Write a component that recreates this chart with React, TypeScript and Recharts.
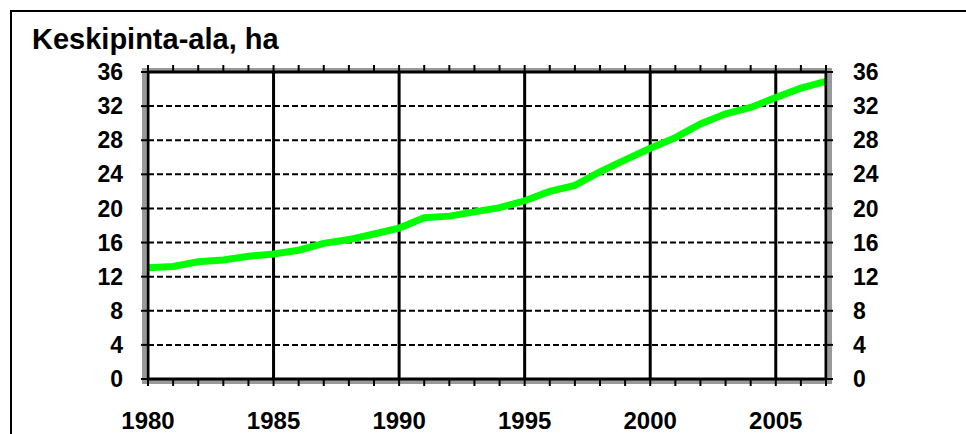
import { Line, LineChart, ReferenceLine, XAxis, YAxis } from 'recharts';

const years = [
  1980, 1981, 1982, 1983, 1984, 1985, 1986, 1987, 1988, 1989, 1990, 1991, 1992, 1993,
  1994, 1995, 1996, 1997, 1998, 1999, 2000, 2001, 2002, 2003, 2004, 2005, 2006, 2007,
];
const avgArea = [
  13.05, 13.2, 13.75, 13.95, 14.4, 14.65, 15.1, 15.9, 16.35, 17.0, 17.7, 18.9, 19.1, 19.6,
  20.1, 20.9, 22.0, 22.7, 24.3, 25.7, 27.05, 28.3, 29.9, 31.1, 31.85, 33.0, 34.1, 34.9,
];
const yTicks = [0, 4, 8, 12, 16, 20, 24, 28, 32, 36];
const dashedLevels = [4, 8, 12, 16, 20, 24, 28, 32];
const labelYears = [1980, 1985, 1990, 1995, 2000, 2005];
const solidYears = [1985, 1990, 1995, 2000, 2005];

const data = years.map((year, i) => ({ year, area: avgArea[i] }));

const FONT = '"Liberation Sans", Arial, sans-serif';
const yTickStyle = { fontSize: 23, fontWeight: 700, fill: '#000', fontFamily: FONT };
const xTickStyle = { fontSize: 24, fontWeight: 700, fill: '#000', fontFamily: FONT };
const axisLine = { stroke: '#000', strokeWidth: 3 };
const tickLine = { stroke: '#000', strokeWidth: 2 };

export default function App() {
  return (
    <div
      style={{
        position: 'fixed',
        left: 0,
        top: 0,
        width: 966,
        height: 434,
        overflow: 'hidden',
        background: '#fff',
        fontFamily: FONT,
      }}
    >
      {/* outer chart frame */}
      <div
        style={{
          position: 'absolute',
          left: 10,
          top: 10,
          width: 1000,
          height: 500,
          border: '2px solid #000',
        }}
      />
      {/* grey shadow round the plot area */}
      <div
        style={{
          position: 'absolute',
          left: 142,
          top: 68,
          width: 682,
          height: 308,
          border: '4px solid #999',
        }}
      />
      <div
        style={{
          position: 'absolute',
          left: 32,
          top: 22,
          fontSize: 29,
          fontWeight: 700,
          lineHeight: '34px',
          color: '#000',
        }}
      >
        Keskipinta-ala, ha
      </div>
      <LineChart
        width={966}
        height={434}
        data={data}
        margin={{ top: 62, right: 80, bottom: 5, left: 88 }}
        style={{ position: 'absolute', left: 0, top: 0 }}
      >
        {dashedLevels.map((v) => (
          <ReferenceLine
            key={`h${v}`}
            y={v}
            yAxisId="left"
            stroke="#000"
            strokeWidth={2}
            strokeDasharray="6 3"
          />
        ))}
        {solidYears.map((y) => (
          <ReferenceLine key={`v${y}`} x={y} yAxisId="left" stroke="#000" strokeWidth={3} />
        ))}
        <XAxis
          dataKey="year"
          type="number"
          domain={[1980, 2007]}
          ticks={years}
          interval={0}
          tickFormatter={(v: number) => (labelYears.includes(v) ? String(v) : '')}
          tick={xTickStyle}
          tickSize={7}
          tickMargin={26}
          axisLine={axisLine}
          tickLine={tickLine}
          height={50}
        />
        <XAxis
          xAxisId="top"
          orientation="top"
          dataKey="year"
          type="number"
          domain={[1980, 2007]}
          ticks={years}
          interval={0}
          tickFormatter={() => ''}
          tickSize={7}
          axisLine={axisLine}
          tickLine={tickLine}
          height={10}
        />
        <YAxis
          yAxisId="left"
          type="number"
          domain={[0, 36]}
          ticks={yTicks}
          interval={0}
          tick={yTickStyle}
          tickSize={7}
          tickMargin={18}
          axisLine={axisLine}
          tickLine={tickLine}
          width={60}
        />
        <YAxis
          yAxisId="right"
          orientation="right"
          type="number"
          domain={[0, 36]}
          ticks={yTicks}
          interval={0}
          tick={yTickStyle}
          tickSize={7}
          tickMargin={20}
          axisLine={axisLine}
          tickLine={tickLine}
          width={60}
        />
        {/* invisible copy so the right-hand axis has a series to scale */}
        <Line
          yAxisId="right"
          xAxisId="top"
          dataKey="area"
          stroke="none"
          dot={false}
          activeDot={false}
          legendType="none"
          isAnimationActive={false}
        />
        <Line
          yAxisId="left"
          dataKey="area"
          type="linear"
          stroke="#00ff00"
          strokeWidth={7}
          dot={false}
          activeDot={false}
          isAnimationActive={false}
        />
      </LineChart>
    </div>
  );
}
